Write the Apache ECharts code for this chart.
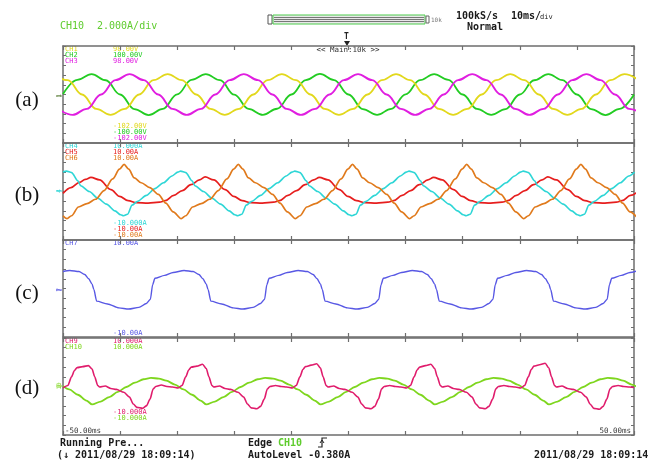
<!DOCTYPE html>
<html><head><meta charset="utf-8">
<script src="https://cdn.jsdelivr.net/npm/echarts@6/dist/echarts.min.js"></script>
<style>html,body{margin:0;padding:0;background:#fff}#chart{width:660px;height:464px}</style>
</head><body><div id="chart"></div>
<script>
// Scope capture: 10 ms/div time base, each channel plotted in divisions (±5 div per zone).
// Every trace is a list of [time ms, level div] samples.

// Zone (a): three phase voltages CH1..CH3
const ch1Yellow = [[-51.67,2.1],[-49.17,1.48],[-46.67,0],[-44.17,-1.48],[-41.67,-2.1],[-39.17,-1.48],[-36.67,0],[-34.17,1.48],[-31.67,2.1],[-29.17,1.48],[-26.67,0],[-24.17,-1.48],[-21.67,-2.1],[-19.17,-1.48],[-16.67,0],[-14.17,1.48],[-11.67,2.1],[-9.17,1.48],[-6.67,0],[-4.17,-1.48],[-1.67,-2.1],[0.83,-1.48],[3.33,0],[5.83,1.48],[8.33,2.1],[10.83,1.48],[13.33,0],[15.83,-1.48],[18.33,-2.1],[20.83,-1.48],[23.33,0],[25.83,1.48],[28.33,2.1],[30.83,1.48],[33.33,0],[35.83,-1.48],[38.33,-2.1],[40.83,-1.48],[43.33,0],[45.83,1.48],[48.33,2.1],[50.83,1.48]];
const ch2Green = [[-50,0.05],[-47.5,1.5],[-45,2.1],[-42.5,1.47],[-40,0],[-37.5,-1.5],[-35,-2.12],[-32.5,-1.48],[-30,0.02],[-27.5,1.5],[-25,2.1],[-22.5,1.48],[-20,-0.02],[-17.5,-1.49],[-15,-2.1],[-12.5,-1.47],[-10,0],[-7.5,1.49],[-5,2.12],[-2.5,1.48],[0,0],[2.5,-1.5],[5,-2.1],[7.5,-1.48],[10,0.02],[12.5,1.48],[15,2.1],[17.5,1.5],[20,0],[22.5,-1.48],[25,-2.1],[27.5,-1.5],[30,0],[32.5,1.47],[35,2.1],[37.5,1.48],[40,0],[42.5,-1.5],[45,-2.12],[47.5,-1.48],[50,0]];
const ch3Magenta = [[-50.83,-1.48],[-48.33,-2.1],[-45.83,-1.48],[-43.33,0],[-40.83,1.48],[-38.33,2.1],[-35.83,1.48],[-33.33,0],[-30.83,-1.48],[-28.33,-2.1],[-25.83,-1.48],[-23.33,0],[-20.83,1.48],[-18.33,2.1],[-15.83,1.48],[-13.33,0],[-10.83,-1.48],[-8.33,-2.1],[-5.83,-1.48],[-3.33,0],[-0.83,1.48],[1.67,2.1],[4.17,1.48],[6.67,0],[9.17,-1.48],[11.67,-2.1],[14.17,-1.48],[16.67,0],[19.17,1.48],[21.67,2.1],[24.17,1.48],[26.67,0],[29.17,-1.48],[31.67,-2.1],[34.17,-1.48],[36.67,0],[39.17,1.48],[41.67,2.1],[44.17,1.48],[46.67,0],[49.17,-1.48],[51.67,-2.1]];

// Zone (b): line currents CH4..CH6
const ch4Cyan = [[-50,2.0],[-49.4,2.1],[-48.5,1.95],[-47.4,1.1],[-46.9,0.6],[-45.4,0.0],[-43.9,-0.7],[-42.4,-1.3],[-40.9,-2.0],[-39.9,-2.4],[-39.4,-2.5],[-38.7,-2.35],[-37.9,-1.4],[-36.9,-1.0],[-35.4,-0.4],[-33.9,0.3],[-32.4,0.9],[-30.9,1.6],[-29.9,2.0],
[-29.4,2.1],[-28.5,1.95],[-27.4,1.1],[-26.9,0.6],[-25.4,0.0],[-23.9,-0.7],[-22.4,-1.3],[-20.9,-2.0],[-19.9,-2.4],[-19.4,-2.5],[-18.7,-2.35],[-17.9,-1.4],[-16.9,-1.0],[-15.4,-0.4],[-13.9,0.3],[-12.4,0.9],[-10.9,1.6],[-9.9,2.0],
[-9.4,2.1],[-8.5,1.95],[-7.4,1.1],[-6.9,0.6],[-5.4,0.0],[-3.9,-0.7],[-2.4,-1.3],[-0.9,-2.0],[0.1,-2.4],[0.6,-2.5],[1.3,-2.35],[2.1,-1.4],[3.1,-1.0],[4.6,-0.4],[6.1,0.3],[7.6,0.9],[9.1,1.6],[10.1,2.0],
[10.6,2.1],[11.5,1.95],[12.6,1.1],[13.1,0.6],[14.6,0.0],[16.1,-0.7],[17.6,-1.3],[19.1,-2.0],[20.1,-2.4],[20.6,-2.5],[21.3,-2.35],[22.1,-1.4],[23.1,-1.0],[24.6,-0.4],[26.1,0.3],[27.6,0.9],[29.1,1.6],[30.1,2.0],
[30.6,2.1],[31.5,1.95],[32.6,1.1],[33.1,0.6],[34.6,0.0],[36.1,-0.7],[37.6,-1.3],[39.1,-2.0],[40.1,-2.4],[40.6,-2.5],[41.3,-2.35],[42.1,-1.4],[43.1,-1.0],[44.6,-0.4],[46.1,0.3],[47.6,0.9],[49.1,1.6],[50.1,2.0]];
const ch5Red = [[-50,-0.2],[-48.6,0.4],[-47.1,0.95],[-46.1,1.25],[-45.1,1.45],[-43.6,1.2],[-41.6,0.2],[-40.1,-0.5],[-38.6,-0.95],[-37.1,-1.15],[-35.1,-1.2],[-33.1,-1.1],[-32.1,-0.95],[-30.6,-0.4],[-29.1,0.1],[-27.6,0.7],[-26.1,1.2],
[-25.1,1.5],[-23.6,1.2],[-21.6,0.2],[-20.1,-0.5],[-18.6,-0.95],[-17.1,-1.15],[-15.1,-1.2],[-13.1,-1.1],[-12.1,-0.95],[-10.6,-0.4],[-9.1,0.1],[-7.6,0.7],[-6.1,1.2],
[-5.1,1.45],[-3.6,1.2],[-1.6,0.2],[-0.1,-0.5],[1.4,-0.95],[2.9,-1.15],[4.9,-1.2],[6.9,-1.1],[7.9,-0.95],[9.4,-0.4],[10.9,0.1],[12.4,0.7],[13.9,1.2],
[14.9,1.45],[16.4,1.2],[18.4,0.2],[19.9,-0.5],[21.4,-0.95],[22.9,-1.15],[24.9,-1.2],[26.9,-1.1],[27.9,-0.95],[29.4,-0.4],[30.9,0.1],[32.4,0.7],[33.9,1.2],
[34.9,1.5],[36.4,1.2],[38.4,0.2],[39.9,-0.5],[41.4,-0.95],[42.9,-1.15],[44.9,-1.2],[46.9,-1.1],[47.9,-0.95],[49.4,-0.4],[50.9,0.1]];
const ch6Orange = [[-50,-2.5],[-49.3,-2.8],[-48.5,-2.5],[-47.3,-1.6],[-45.8,-1.25],[-44.3,-0.8],[-42.8,0.1],[-41.3,1.3],[-40.1,2.3],[-39.3,2.8],
[-38.5,2.3],[-37.5,1.4],[-36.3,0.9],[-34.8,0.4],[-33.3,-0.3],[-32.0,-1.2],[-30.7,-2.1],[-29.3,-2.8],[-28.5,-2.5],[-27.3,-1.6],[-25.8,-1.25],[-24.3,-0.8],[-22.8,0.1],[-21.3,1.3],[-20.1,2.3],[-19.3,2.8],
[-18.5,2.3],[-17.5,1.4],[-16.3,0.9],[-14.8,0.4],[-13.3,-0.3],[-12.0,-1.2],[-10.7,-2.1],[-9.3,-2.8],[-8.5,-2.5],[-7.3,-1.6],[-5.8,-1.25],[-4.3,-0.8],[-2.8,0.1],[-1.3,1.3],[-0.1,2.3],[0.7,2.8],
[1.5,2.3],[2.5,1.4],[3.7,0.9],[5.2,0.4],[6.7,-0.3],[8.0,-1.2],[9.3,-2.1],[10.7,-2.8],[11.5,-2.5],[12.7,-1.6],[14.2,-1.25],[15.7,-0.8],[17.2,0.1],[18.7,1.3],[19.9,2.3],[20.7,2.8],
[21.5,2.3],[22.5,1.4],[23.7,0.9],[25.2,0.4],[26.7,-0.3],[28.0,-1.2],[29.3,-2.1],[30.7,-2.8],[31.5,-2.5],[32.7,-1.6],[34.2,-1.25],[35.7,-0.8],[37.2,0.1],[38.7,1.3],[39.9,2.3],[40.7,2.8],
[41.5,2.3],[42.5,1.4],[43.7,0.9],[45.2,0.4],[46.7,-0.3],[48.0,-1.2],[49.3,-2.1],[50.7,-2.8]];

// Zone (c): CH7
const ch7Blue = [[-50,1.75],[-48.8,1.86],[-47.2,1.75],[-46.2,1.45],[-45.5,1.0],[-44.9,0.45],[-44.6,-0.1],[-44.1,-1.3],[-42.2,-1.6],[-40.2,-2.0],[-38.5,-2.12],[-36.7,-1.95],[-35.4,-1.55],[-34.7,-1.12],[-34.3,0.4],[-33.9,1.05],[-32.2,1.35],[-30.7,1.65],
[-28.8,1.86],[-27.2,1.75],[-26.2,1.45],[-25.5,1.0],[-24.9,0.45],[-24.6,-0.1],[-24.1,-1.3],[-22.2,-1.6],[-20.2,-2.0],[-18.5,-2.12],[-16.7,-1.95],[-15.4,-1.55],[-14.7,-1.12],[-14.3,0.4],[-13.9,1.05],[-12.2,1.35],[-10.7,1.65],
[-8.8,1.86],[-7.2,1.75],[-6.2,1.45],[-5.5,1.0],[-4.9,0.45],[-4.6,-0.1],[-4.1,-1.3],[-2.2,-1.6],[-0.2,-2.0],[1.5,-2.12],[3.3,-1.95],[4.6,-1.55],[5.3,-1.12],[5.7,0.4],[6.1,1.05],[7.8,1.35],[9.3,1.65],
[11.2,1.86],[12.8,1.75],[13.8,1.45],[14.5,1.0],[15.1,0.45],[15.4,-0.1],[15.9,-1.3],[17.8,-1.6],[19.8,-2.0],[21.5,-2.12],[23.3,-1.95],[24.6,-1.55],[25.3,-1.12],[25.7,0.4],[26.1,1.05],[27.8,1.35],[29.3,1.65],
[31.2,1.86],[32.8,1.75],[33.8,1.45],[34.5,1.0],[35.1,0.45],[35.4,-0.1],[35.9,-1.3],[37.8,-1.6],[39.8,-2.0],[41.5,-2.12],[43.3,-1.95],[44.6,-1.55],[45.3,-1.12],[45.7,0.4],[46.1,1.05],[47.8,1.35],[49.3,1.65],[50.5,1.8]];

// Zone (d): CH9 and CH10
const ch9Pink = [[-50,-0.15],[-49.16,0.1],[-48.51,1.0],[-47.99,1.65],[-47.53,1.95],[-46.54,2.05],[-45.56,2.15],[-44.91,1.8],[-44.45,1.0],[-43.92,0.1],[-43.59,-0.05],[-42.61,0.05],[-41.63,-0.2],[-40.65,-0.3],[-39.34,-0.6],[-38.35,-1.1],[-37.7,-1.8],[-37.04,-2.15],[-36.06,-2.25],[-35.4,-2.0],[-34.75,-1.3],[-34.22,-0.25],[-33.76,0.0],[-32.78,0.15],[-31.8,0.0],[-30.82,-0.05],
[-29.82,-0.15],[-29.16,0.1],[-28.51,1.0],[-27.99,1.7],[-27.53,2.0],[-26.54,2.1],[-25.56,2.3],[-24.91,1.85],[-24.45,1.0],[-23.92,0.1],[-23.59,-0.05],[-22.61,0.05],[-21.63,-0.2],[-20.65,-0.3],[-19.34,-0.6],[-18.35,-1.1],[-17.7,-1.8],[-17.04,-2.2],[-16.06,-2.3],[-15.4,-2.05],[-14.75,-1.3],[-14.22,-0.25],[-13.76,0.0],[-12.78,0.1],[-11.8,0.0],[-10.82,-0.05],
[-9.82,-0.15],[-9.16,0.1],[-8.51,1.0],[-7.99,1.75],[-7.53,2.05],[-6.54,2.2],[-5.56,2.35],[-4.91,1.9],[-4.45,1.0],[-3.92,0.1],[-3.59,-0.05],[-2.61,0.05],[-1.63,-0.2],[-0.65,-0.3],[0.66,-0.6],[1.65,-1.1],[2.3,-1.8],[2.96,-2.2],[3.94,-2.3],[4.6,-2.05],[5.25,-1.3],[5.78,-0.25],[6.24,0.0],[7.22,0.1],[8.2,0.0],[9.18,-0.05],
[10.18,-0.15],[10.84,0.1],[11.49,1.0],[12.01,1.7],[12.47,2.0],[13.46,2.15],[14.44,2.3],[15.09,1.85],[15.55,1.0],[16.08,0.1],[16.41,-0.05],[17.39,0.05],[18.37,-0.2],[19.35,-0.3],[20.66,-0.6],[21.65,-1.1],[22.3,-1.8],[22.96,-2.2],[23.94,-2.3],[24.6,-2.05],[25.25,-1.3],[25.78,-0.25],[26.24,0.0],[27.22,0.1],[28.2,0.0],[29.18,-0.05],
[30.18,-0.15],[30.84,0.1],[31.49,1.0],[32.01,1.75],[32.47,2.1],[33.46,2.25],[34.44,2.4],[35.09,1.9],[35.55,1.0],[36.08,0.1],[36.41,-0.05],[37.39,0.05],[38.37,-0.2],[39.35,-0.3],[40.66,-0.6],[41.65,-1.1],[42.3,-1.8],[42.96,-2.25],[43.94,-2.35],[44.6,-2.05],[45.25,-1.3],[45.78,-0.25],[46.24,0.0],[47.22,0.1],[48.2,0.0],[49.18,-0.05],[50,-0.1]];
const ch10Green = [[-50,0.05],[-48.9,-0.3],[-47.4,-0.85],[-45.9,-1.45],[-44.9,-1.85],[-43.4,-1.55],[-41.9,-1.1],[-40.4,-0.55],[-38.9,-0.05],[-37.4,0.4],[-35.9,0.75],[-34.6,0.88],[-33.2,0.82],[-31.9,0.6],[-30.4,0.2],[-28.9,-0.3],[-27.4,-0.85],[-25.9,-1.45],
[-24.9,-1.85],[-23.4,-1.55],[-21.9,-1.1],[-20.4,-0.55],[-18.9,-0.05],[-17.4,0.4],[-15.9,0.75],[-14.6,0.88],[-13.2,0.82],[-11.9,0.6],[-10.4,0.2],[-8.9,-0.3],[-7.4,-0.85],[-5.9,-1.45],
[-4.9,-1.85],[-3.4,-1.55],[-1.9,-1.1],[-0.4,-0.55],[1.1,-0.05],[2.6,0.4],[4.1,0.75],[5.4,0.88],[6.8,0.82],[8.1,0.6],[9.6,0.2],[11.1,-0.3],[12.6,-0.85],[14.1,-1.45],
[15.1,-1.85],[16.6,-1.55],[18.1,-1.1],[19.6,-0.55],[21.1,-0.05],[22.6,0.4],[24.1,0.75],[25.4,0.88],[26.8,0.82],[28.1,0.6],[29.6,0.2],[31.1,-0.3],[32.6,-0.85],[34.1,-1.45],
[35.1,-1.85],[36.6,-1.55],[38.1,-1.1],[39.6,-0.55],[41.1,-0.05],[42.6,0.4],[44.1,0.75],[45.4,0.88],[46.8,0.82],[48.1,0.6],[49.6,0.2],[51.1,-0.3]];

// Channel scale labels per zone: [channel, upper, lower]
const scalesA = [['CH1','98.00V','-102.00V'],['CH2','100.00V','-100.00V'],['CH3','98.00V','-102.00V']];
const scalesB = [['CH4','10.000A','-10.000A'],['CH5','10.00A','-10.00A'],['CH6','10.00A','-10.00A']];
const scalesC = [['CH7','10.00A','-10.00A']];
const scalesD = [['CH9','10.000A','-10.000A'],['CH10','10.000A','-10.000A']];
const zoneNames = ['(a)','(b)','(c)','(d)'];

const C = {
  yellow:'#e2d81c', green:'#22cc22', magenta:'#e01ee0',
  cyan:'#2ed6d6', red:'#e61e1e', orange:'#e07a1c',
  blue:'#5858e4', pink:'#e01c6c', lime:'#7ed61e',
  frame:'#6e6e6e', text:'#1a1a1a'
};

const tops = [46, 143, 240, 338];
const zoneH = 97;
const L = 63, R = 26;
const mono = '"DejaVu Sans Mono", monospace';

const grids = tops.map(t => ({left: L, right: R, top: t, height: zoneH}));
const xAxes = [], yAxes = [];
tops.forEach((t, i) => {
  ['bottom','top'].forEach(pos => xAxes.push({
    gridIndex: i, type: 'value', min: -50, max: 50, interval: 10, position: pos,
    axisLine: {show: true, onZero: false, lineStyle: {color: C.frame, width: 1.5}},
    axisTick: {show: true, inside: true, length: 4, lineStyle: {color: C.frame, width: 1.2}},
    axisLabel: {show: false}, splitLine: {show: false}
  }));
  ['left','right'].forEach(pos => yAxes.push({
    gridIndex: i, type: 'value', min: -5, max: 5, interval: 1, position: pos,
    axisLine: {show: true, onZero: false, lineStyle: {color: C.frame, width: 1.5}},
    axisTick: {show: true, inside: true, length: 3, lineStyle: {color: C.frame, width: 1}},
    axisLabel: {show: false}, splitLine: {show: false}
  }));
});

function trace(data, zone, color, width, smooth) {
  return {
    type: 'line', data, xAxisIndex: zone * 2, yAxisIndex: zone * 2,
    symbol: 'none', smooth: smooth, smoothMonotone: 'x', clip: true,
    lineStyle: {color, width}, silent: true
  };
}

const series = [
  trace(ch2Green, 0, C.green, 1.8, 0.4),
  trace(ch1Yellow, 0, C.yellow, 1.8, 0.4),
  trace(ch3Magenta, 0, C.magenta, 1.9, 0.4),
  trace(ch5Red, 1, C.red, 1.7, 0.35),
  trace(ch4Cyan, 1, C.cyan, 1.6, 0.3),
  trace(ch6Orange, 1, C.orange, 1.7, 0.3),
  trace(ch7Blue, 2, C.blue, 1.4, 0.25),
  trace(ch10Green, 3, C.lime, 1.8, 0.3),
  trace(ch9Pink, 3, C.pink, 1.6, 0.25)
];

const g = [];
function txt(text, x, y, fill, size, opts) {
  const o = opts || {};
  const weight = o.bold ? 'bold ' : '';
  g.push({type: 'text', silent: true, style: {
    text, x, y, fill, font: weight + size + 'px ' + (o.family || mono),
    align: o.align || 'left', verticalAlign: 'middle'
  }});
}

// Header
txt('CH10', 60, 26, '#5fcc2e', 10);
txt('2.000A/div', 97, 26, '#5fcc2e', 10);
g.push({type:'rect', silent:true, shape:{x:268, y:15, width:4, height:9}, style:{fill:'#fff', stroke:'#555', lineWidth:1}});
g.push({type:'rect', silent:true, shape:{x:273, y:15, width:152, height:9}, style:{fill:'#e8e8e8', stroke:'#4ccc4c', lineWidth:1}});
[17.5, 19.5, 21.5].forEach(yy => g.push({type:'line', silent:true, shape:{x1:274, y1:yy, x2:424, y2:yy}, style:{stroke:'#777', lineWidth:1}}));
g.push({type:'rect', silent:true, shape:{x:426, y:16, width:3, height:7}, style:{fill:'#fff', stroke:'#666', lineWidth:1}});
txt('10k', 431, 20, '#777', 6);
txt('100kS/s', 456, 16, C.text, 10, {bold:true});
txt('10ms/', 511, 16, C.text, 10, {bold:true});
txt('div', 540, 17, C.text, 7);
txt('Normal', 467, 27, C.text, 10, {bold:true});
txt('T', 344, 37, '#222', 8, {bold:true});
g.push({type:'polygon', silent:true, shape:{points:[[344,41],[350,41],[347,46]]}, style:{fill:'#222'}});
txt('<< Main:10k >>', 348, 50, '#333', 7.5, {align:'center'});

// Scale labels
function scaleBlock(list, colors, topY, botY, step) {
  list.forEach((s, k) => {
    txt(s[0], 65, topY + k * step, colors[k], 7);
    txt(s[1], 113, topY + k * step, colors[k], 7);
    txt(s[2], 113, botY + k * step, colors[k], 7);
  });
}
scaleBlock(scalesA, [C.yellow, C.green, C.magenta], 49.5, 126, 6);
scaleBlock(scalesB, [C.cyan, C.red, C.orange], 146.5, 223, 6);
scaleBlock(scalesC, [C.blue], 243.5, 333, 6);
scaleBlock(scalesD, [C.pink, C.lime], 341, 412, 6.5);

// Zone names and ground markers
const zoneCenters = [100, 195, 293, 388];
zoneNames.forEach((n, i) => txt(n, 27, zoneCenters[i], '#111', 21, {align:'center', family:'"Liberation Serif", serif'}));
const gnd = [[96, '1', '#6a8a4a'], [191, '4', C.cyan], [290, '7', C.blue], [386, '10', C.lime]];
gnd.forEach(m => {
  g.push({type:'line', silent:true, shape:{x1:56, y1:m[0], x2:62, y2:m[0]}, style:{stroke:m[2], lineWidth:1}});
  g.push({type:'text', silent:true, x:59, y:m[0], rotation:Math.PI/2, style:{text:m[1], x:0, y:0, fill:m[2], font:'6px ' + mono, align:'center', verticalAlign:'middle'}});
});

txt('-50.00ms', 65, 431, '#333', 7.5);
txt('50.00ms', 631, 431, '#333', 7.5, {align:'right'});

// Footer
txt('Running Pre...', 60, 443, C.text, 10, {bold:true});
txt('(\u2193 2011/08/29 18:09:14)', 57, 455, C.text, 10, {bold:true});
txt('Edge', 248, 443, C.text, 10, {bold:true});
txt('CH10', 278, 443, '#5fcc2e', 10, {bold:true});
g.push({type:'polyline', silent:true, shape:{points:[[318,447],[322,447],[322,438],[327,438]]}, style:{stroke:'#222', lineWidth:1.2, fill:null}});
g.push({type:'polyline', silent:true, shape:{points:[[320,443],[322,440],[324,443]]}, style:{stroke:'#222', lineWidth:1, fill:null}});
txt('AutoLevel -0.380A', 248, 455, C.text, 10, {bold:true});
txt('2011/08/29 18:09:14', 534, 455, C.text, 10, {bold:true});

const chart = echarts.init(document.getElementById('chart'), null, {renderer: 'canvas'});
chart.setOption({
  animation: false,
  backgroundColor: '#ffffff',
  grid: grids,
  xAxis: xAxes,
  yAxis: yAxes,
  series: series,
  graphic: g
});
</script></body></html>
